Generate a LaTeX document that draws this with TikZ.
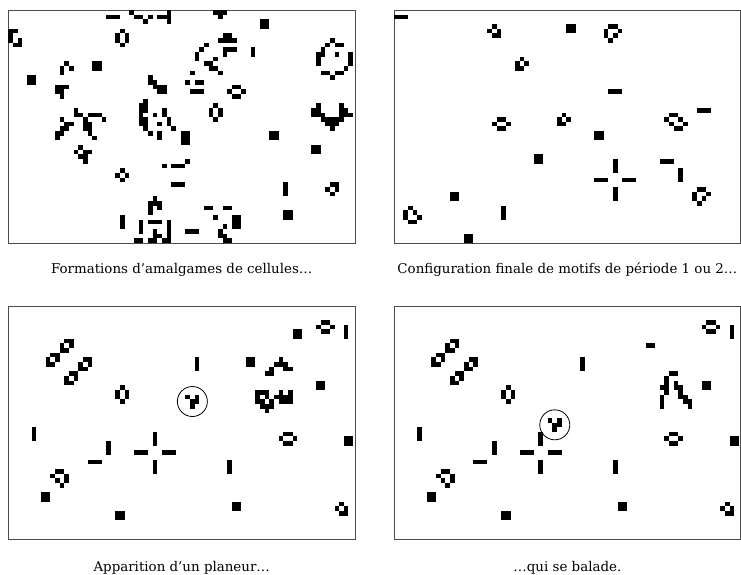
\documentclass[tikz,border=0pt]{standalone}
\usepackage{fontspec}
\setmainfont{DejaVu Serif}

% live cells of the grid, #1,#2 = top left corner of the panel
\newcommand\lifecells[3]{%
  \edef\celllist{#3}%
  \foreach \cx/\cy in \celllist
    \fill[cell] ({#1+\cx*\cellw},{#2+\cy*\cellw}) rectangle ++(\cellw,\cellw);}

\begin{document}
\begin{tikzpicture}[x=1pt,y=-1pt,
  cell/.style={black},
  frame/.style={draw=black!70,line width=0.9pt},
  legend/.style={font=\fontsize{13.4}{16}\selectfont,inner sep=0pt},
  ring/.style={circle,draw,line width=0.8pt,minimum size=30pt,inner sep=0pt}]
\def\cellw{4.66}
\def\pw{346.8}
\def\ph{233}
\useasboundingbox (0,0) rectangle (741,575);

% frames
\draw[frame] (8.3,10) rectangle ++(\pw,\ph);
\draw[frame] (394,10) rectangle ++(\pw,\ph);
\draw[frame] (8.3,306) rectangle ++(\pw,\ph);
\draw[frame] (394,306) rectangle ++(\pw,\ph);

% panel 1 : amalgames
\lifecells{8.3}{10}{21/1,22/1,23/1,
  26/0,34/0,27/1,28/1,30/1,32/1,33/1,34/1,29/2,34/2,
  44/0,45/0,46/0,45/1,
  0/4,1/4,0/5,0/6,2/6,1/7,2/7,
  24/4,23/5,25/5,23/6,25/6,24/7,
  12/11,11/12,13/12,11/13,
  18/11,19/11,18/12,19/12,
  4/14,5/14,4/15,5/15,
  10/16,11/16,12/16,10/17,11/17,11/18,
  30/14,30/15,31/15,31/16,32/16,33/16,32/17,33/17,
  14/21,14/22,15/22,17/22,18/22,19/22,11/23,16/23,20/23,
  12/24,13/24,16/24,17/24,11/25,12/25,16/25,17/25,
  10/26,11/26,17/26,10/27,18/27,
  15/29,14/30,16/30,17/30,15/31,16/31,16/32,
  24/34,23/35,25/35,24/36,
  38/32,33/33,35/33,36/33,37/33,35/37,36/37,37/37,
  31/40,30/41,31/41,32/41,30/42,32/42,30/43,
  24/44,24/45,24/46,
  28/45,30/45,31/45,32/45,34/45,28/46,34/46,
  28/47,31/47,34/47,31/48,32/48,34/48,
  27/49,28/49,30/49,31/49,33/49,34/49}
\lifecells{8.3}{10}{54/2,55/2,54/3,55/3,
  46/5,47/5,45/6,46/6,47/6,48/6,46/8,47/8,48/8,46/9,
  52/8,52/9,
  42/7,41/8,40/9,40/10,
  44/10,42/11,43/11,43/12,44/12,39/13,45/13,
  38/15,40/15,41/15,39/17,40/17,41/17,
  48/16,49/16,47/17,50/17,48/18,49/18,
  44/20,43/21,45/21,43/22,45/22,44/23,
  29/19,28/20,29/20,28/21,29/21,33/21,28/22,31/22,33/22,
  28/23,29/23,34/23,28/24,29/24,32/24,34/24,29/25,35/25,
  30/26,32/26,37/26,38/26,32/27,37/27,38/27,37/28,38/28,
  69/6,68/7,70/7,71/7,67/8,66/9,67/9,70/9,73/9,
  66/10,73/10,66/11,73/11,72/12,67/13,68/13,70/13,71/13,69/14,
  66/20,71/20,65/21,66/21,71/21,72/21,
  65/22,66/22,67/22,71/22,72/22,73/22,
  67/23,68/23,69/23,70/23,71/23,68/24,69/24,70/24,69/25,
  56/26,57/26,56/27,57/27,
  65/29,66/29,65/30,66/30,
  59/37,59/38,59/39,
  69/37,70/37,68/38,70/38,69/39,
  59/43,60/43,59/44,60/44,
  42/42,43/42,46/42,47/42,44/44,
  48/44,49/44,48/45,49/45,48/46,49/46,46/46,
  45/47,45/48,46/48,46/49,47/49,38/47,39/47,40/47}

% panel 2 : configuration finale
\lifecells{394}{10}{0/1,1/1,2/1,
  21/3,20/4,22/4,21/5,22/5,
  37/3,38/3,37/4,38/4,
  27/10,26/11,28/11,26/12,27/12,
  22/23,23/23,21/24,24/24,22/25,23/25,
  36/22,35/23,37/23,35/24,36/24,
  30/31,31/31,30/32,31/32,
  12/39,13/39,12/40,13/40,
  23/42,23/43,23/44,
  3/42,2/43,4/43,2/44,5/44,3/45,4/45,
  15/48,16/48,15/49,16/49,
  46/3,47/3,45/4,48/4,45/5,47/5,46/6,
  46/17,47/17,48/17,
  65/21,66/21,67/21,
  59/22,60/22,58/23,61/23,59/24,62/24,60/25,61/25,
  43/26,44/26,43/27,44/27,
  43/36,44/36,45/36,49/36,50/36,51/36,
  47/32,47/33,47/34,47/38,47/39,47/40,
  57/32,58/32,59/32,
  61/34,61/35,61/36,
  65/38,66/38,64/39,67/39,64/40,66/40,65/41}

% what stays the same in panels 3 and 4
\def\stillcells{12/7,13/7,11/8,13/8,11/9,12/9,9/10,10/10,8/11,10/11,8/12,9/12,
  16/11,17/11,15/12,17/12,15/13,16/13,13/14,14/14,12/15,14/15,12/16,13/16,
  24/17,23/18,25/18,23/19,25/19,24/20,
  5/26,5/27,5/28,21/29,21/30,21/31,17/33,18/33,19/33,
  31/27,31/28,31/29,31/33,31/34,31/35,27/31,28/31,29/31,33/31,34/31,35/31,
  10/35,11/35,9/36,12/36,10/37,12/37,11/38,
  7/40,8/40,7/41,8/41,23/44,24/44,23/45,24/45,
  67/3,68/3,66/4,69/4,67/5,68/5,72/4,72/5,72/6,
  40/11,40/12,40/13,66/16,67/16,66/17,67/17,
  59/27,60/27,58/28,61/28,59/29,60/29,72/28,73/28,72/29,73/29,
  47/33,47/34,47/35,48/42,49/42,48/43,49/43,
  71/42,70/43,72/43,71/44,72/44}

% panel 3 : apparition du planeur
\lifecells{8.3}{306}{\stillcells}
\lifecells{8.3}{306}{61/5,62/5,61/6,62/6,
  51/11,52/11,51/12,52/12,
  58/11,57/12,58/12,59/12,56/13,59/13,60/13,55/14,56/14,
  53/18,54/18,55/18,58/18,60/18,53/19,55/19,57/19,58/19,59/19,60/19,
  53/20,54/20,56/20,58/20,59/20,60/20,54/21,55/21,56/21,55/22,
  38/19,40/19,39/20,40/20,39/21}
\node[ring] (glider1) at ({8.3+39.5*\cellw},{306+20.5*\cellw}) {};

% panel 4 : le planeur se deplace
\lifecells{394}{306}{\stillcells}
\lifecells{394}{306}{54/8,55/8,
  59/14,60/14,58/15,58/16,60/16,57/17,58/17,60/17,61/17,58/18,61/18,
  57/19,61/19,62/19,57/20,62/20,63/20,57/21,63/21,
  33/24,35/24,34/25,35/25,34/26}
\node[ring] (glider2) at ({394+34.5*\cellw},{306+25.5*\cellw}) {};

% legends
\node[legend] (cap1) at (181.7,270) {Formations d’amalgames de cellules…};
\node[legend] (cap2) at (567.4,270) {Configuration finale de motifs de période 1 ou 2…};
\node[legend] (cap3) at (181.7,568) {Apparition d’un planeur…};
\node[legend] (cap4) at (567.4,568) {…qui se balade.};
\end{tikzpicture}
\end{document}
